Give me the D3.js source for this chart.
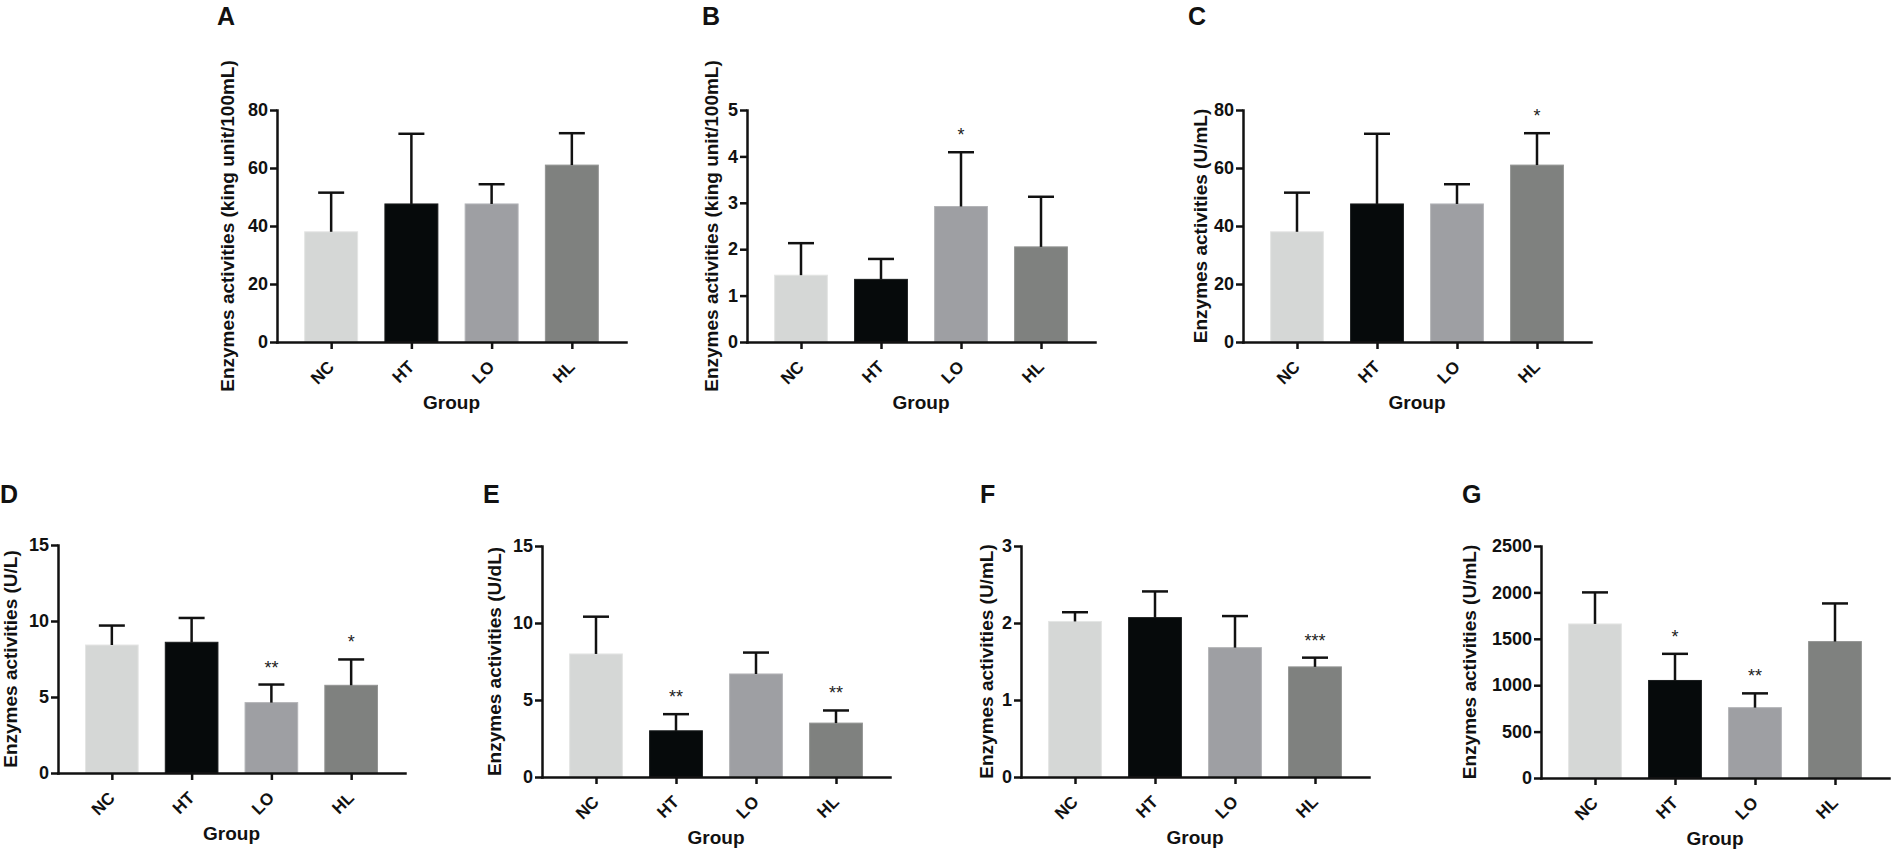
<!DOCTYPE html>
<html>
<head>
<meta charset="utf-8">
<script src="https://cdnjs.cloudflare.com/ajax/libs/d3/7.8.5/d3.min.js"></script>
<style>
  html, body { margin: 0; padding: 0; background: #ffffff; }
  svg { display: block; font-family: "Liberation Sans", Arial, sans-serif; }
</style>
</head>
<body>
<svg id="chart" width="1892" height="850"></svg>
<script>
// ---------------- data ----------------
const categories = ["NC", "HT", "LO", "HL"];
const panelIds = ["A", "B", "C", "D", "E", "F", "G"];
const yTitles = [
  "Enzymes activities (king unit/100mL)",
  "Enzymes activities (king unit/100mL)",
  "Enzymes activities (U/mL)",
  "Enzymes activities (U/L)",
  "Enzymes activities (U/dL)",
  "Enzymes activities (U/mL)",
  "Enzymes activities (U/mL)"
];
const xTitle = "Group";
const yMaxValues = [80, 5, 80, 15, 15, 3, 2500];
const yTickValues = [
  [0, 20, 40, 60, 80],
  [0, 1, 2, 3, 4, 5],
  [0, 20, 40, 60, 80],
  [0, 5, 10, 15],
  [0, 5, 10, 15],
  [0, 1, 2, 3],
  [0, 500, 1000, 1500, 2000, 2500]
];
const meansA = [38, 47.6, 47.6, 61];
const sdA    = [13.5, 24.2, 6.8, 11];
const meansB = [1.44, 1.35, 2.92, 2.05];
const sdB    = [0.69, 0.44, 1.17, 1.08];
const meansC = [38, 47.6, 47.6, 61];
const sdC    = [13.5, 24.2, 6.8, 11];
const meansD = [8.42, 8.6, 4.63, 5.77];
const sdD    = [1.28, 1.6, 1.19, 1.7];
const meansE = [7.99, 3.0, 6.69, 3.5];
const sdE    = [2.42, 1.08, 1.39, 0.82];
const meansF = [2.02, 2.07, 1.68, 1.43];
const sdF    = [0.12, 0.34, 0.41, 0.12];
const meansG = [1660, 1051, 758, 1470];
const sdG    = [340, 287, 154, 411];
const starsA = ["", "", "", ""];
const starsB = ["", "", "*", ""];
const starsC = ["", "", "", "*"];
const starsD = ["", "", "**", "*"];
const starsE = ["", "**", "", "**"];
const starsF = ["", "", "", "***"];
const starsG = ["", "*", "**", ""];

const allMeans = [meansA, meansB, meansC, meansD, meansE, meansF, meansG];
const allSd = [sdA, sdB, sdC, sdD, sdE, sdF, sdG];
const allStars = [starsA, starsB, starsC, starsD, starsE, starsF, starsG];

// ---------------- layout & style ----------------
const layout = [
  { ax: 277,  x1: 626,  top: 110, base: 342, lx: 217,  ly: 25,  tx: 234 },
  { ax: 747,  x1: 1095, top: 110, base: 342, lx: 702,  ly: 25,  tx: 718 },
  { ax: 1243, x1: 1591, top: 110, base: 342, lx: 1188, ly: 25,  tx: 1207 },
  { ax: 58,   x1: 405,  top: 545, base: 773, lx: 0,    ly: 503, tx: 17 },
  { ax: 542,  x1: 890,  top: 546, base: 777, lx: 483,  ly: 503, tx: 501 },
  { ax: 1021, x1: 1369, top: 546, base: 777, lx: 980,  ly: 503, tx: 993 },
  { ax: 1541, x1: 1889, top: 546, base: 778, lx: 1462, ly: 503, tx: 1476 }
];
const barColors = ["#d5d7d6", "#060a0b", "#9e9fa3", "#7f817f"];
const barEdge = ["#e4e5e4", "#1a1d1e", "#b3b4b7", "#939493"];
const ink = "#111111";
const axisWidth = 2.5;

const svg = d3.select("#chart");
svg.append("rect").attr("width", 1892).attr("height", 850).attr("fill", "#fff");

panelIds.forEach((id, p) => {
  const L = layout[p];
  const g = svg.append("g");
  const x = d3.scalePoint().domain(categories).range([L.ax, L.x1]).padding(0.675);
  const y = d3.scaleLinear().domain([0, yMaxValues[p]]).range([L.base, L.top]);
  const barW = x.step() * 0.66;
  const capW = 26;
  const data = categories.map((c, i) => ({ c, m: allMeans[p][i], sd: allSd[p][i], s: allStars[p][i], col: barColors[i], edge: barEdge[i] }));

  // bars
  g.selectAll("rect.bar").data(data).join("rect")
    .attr("class", "bar")
    .attr("x", d => x(d.c) - barW / 2)
    .attr("width", barW)
    .attr("y", d => y(d.m))
    .attr("height", d => y(0) - y(d.m))
    .attr("fill", d => d.col)
    .attr("stroke", d => d.edge)
    .attr("stroke-width", 1);

  // error bars (upper only)
  g.selectAll("line.stem").data(data).join("line")
    .attr("x1", d => x(d.c)).attr("x2", d => x(d.c))
    .attr("y1", d => y(d.m)).attr("y2", d => y(d.m + d.sd))
    .attr("stroke", ink).attr("stroke-width", axisWidth);
  g.selectAll("line.cap").data(data).join("line")
    .attr("x1", d => x(d.c) - capW / 2).attr("x2", d => x(d.c) + capW / 2)
    .attr("y1", d => y(d.m + d.sd)).attr("y2", d => y(d.m + d.sd))
    .attr("stroke", ink).attr("stroke-width", axisWidth);

  // significance stars
  g.selectAll("text.star").data(data.filter(d => d.s)).join("text")
    .attr("x", d => x(d.c))
    .attr("y", d => y(d.m + d.sd) - 22 + 11)
    .attr("text-anchor", "middle")
    .attr("font-size", 18)
    .attr("fill", "#222")
    .text(d => d.s);

  // y axis
  const yAxis = d3.axisLeft(y).tickValues(yTickValues[p]).tickSize(7).tickSizeOuter(0).tickPadding(2).tickFormat(d3.format("d"));
  const ya = g.append("g").attr("transform", `translate(${L.ax},0)`).call(yAxis);
  ya.select(".domain").attr("stroke", ink).attr("stroke-width", axisWidth).attr("stroke-linecap", "square");
  ya.selectAll(".tick line").attr("stroke", ink).attr("stroke-width", axisWidth);
  ya.selectAll(".tick text").attr("font-size", 18).attr("font-weight", "bold").attr("fill", ink)
    .attr("font-family", "Liberation Sans, Arial, sans-serif");

  // x axis
  const xAxis = d3.axisBottom(x).tickSize(7).tickSizeOuter(0).tickFormat("");
  const xa = g.append("g").attr("transform", `translate(0,${L.base})`).call(xAxis);
  xa.select(".domain").attr("stroke", ink).attr("stroke-width", axisWidth).attr("stroke-linecap", "square");
  xa.selectAll(".tick line").attr("stroke", ink).attr("stroke-width", axisWidth);

  // rotated category labels
  g.selectAll("text.cat").data(categories).join("text")
    .attr("transform", c => `translate(${x(c) + 4},${L.base + 26}) rotate(-45)`)
    .attr("text-anchor", "end")
    .attr("font-size", 17)
    .attr("font-weight", "bold")
    .attr("fill", ink)
    .text(c => c);

  // x title
  g.append("text")
    .attr("x", (L.ax + L.x1) / 2)
    .attr("y", L.base + 67)
    .attr("text-anchor", "middle")
    .attr("font-size", 19)
    .attr("font-weight", "bold")
    .attr("fill", ink)
    .text(xTitle);

  // y title
  g.append("text")
    .attr("transform", `translate(${L.tx},${(L.top + L.base) / 2}) rotate(-90)`)
    .attr("text-anchor", "middle")
    .attr("font-size", 19)
    .attr("font-weight", "bold")
    .attr("fill", ink)
    .text(yTitles[p]);

  // panel letter
  g.append("text")
    .attr("x", L.lx)
    .attr("y", L.ly)
    .attr("font-size", 25)
    .attr("font-weight", "bold")
    .attr("fill", ink)
    .text(id);
});
</script>
</body>
</html>
